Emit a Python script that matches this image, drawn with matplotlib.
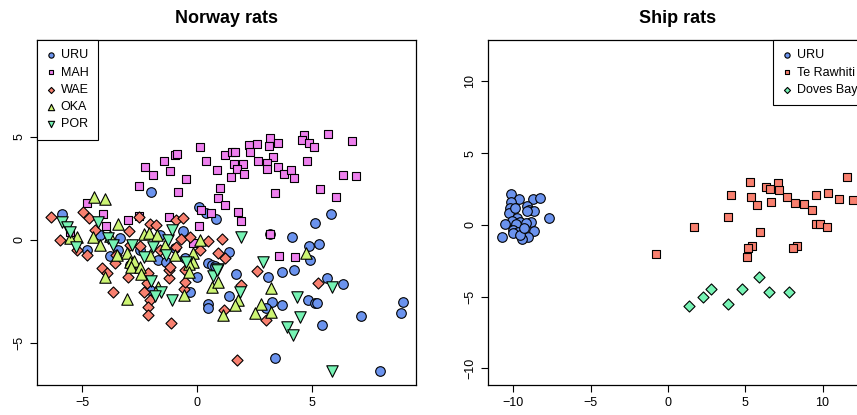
import numpy as np
import matplotlib
matplotlib.use('Agg')
import matplotlib.pyplot as plt

plt.rcParams['font.family'] = ['Liberation Sans', 'DejaVu Sans']

# ---- Norway rats (PC1, PC2 per population) ----
uru_x = [-5.87, -2.0, 0.09, 0.39, 0.83, -0.61, -1.61, -4.78, -3.43, -1.70, -1.35, 0.48, 0.65, 0.78,
         1.39, 1.70, 0.0, -0.30, 1.39, 0.48, 0.48, 3.09, 3.70, 4.22, 4.91, 4.13, 4.87, 5.30, 5.13,
         5.83, 3.17, 5.65, 6.35, 3.26, 3.70, 4.83, 5.13, 5.22, 5.43, 7.13, 8.87, 8.96, 3.39, 7.96,
         3.0, -0.52, -2.48, -2.91, -2.04, -4.22, -3.35, -0.96, -3.78]
uru_y = [1.26, 2.33, 1.60, 1.31, 1.02, 0.44, 0.24, -0.49, -0.49, -0.97, -1.07, -1.12, -1.21, -1.26,
         -0.58, -1.65, -1.80, -2.52, -2.72, -3.11, -3.30, -1.80, -1.55, -1.46, -0.97, 0.15, -0.29,
         -0.19, 0.83, 1.26, 0.29, -1.84, -2.14, -3.01, -3.16, -2.91, -3.06, -3.06, -4.13, -3.69,
         -3.54, -3.01, -5.73, -6.36, -3.30, -0.87, -0.49, -1.21, -2.43, 0.24, 0.10, -0.39, -0.78]

mah_x = [-2.26, -1.91, -2.52, -1.43, -1.17, -0.96, -0.87, 0.13, 0.39, 0.87, 1.22, 1.52, 1.65, 1.61,
         2.0, 1.74, 1.48, 2.04, 1.0, 0.91, 2.26, 2.61, 2.30, 3.17, 3.13, 3.52, 3.30, 2.65, 3.04,
         3.04, 3.52, 3.78, 4.09, 4.22, 3.39, 4.65, 4.57, 4.87, 5.09, 4.78, 5.70, 5.35, 6.04, 6.35,
         6.91, 6.74, -0.48, -0.83, 1.22, 1.78, 1.91, 0.17, 0.61, 0.09, 3.17, -0.17, 3.57, 4.26,
         -4.78, -4.09, -3.0, -2.52, -1.22, -3.96, -5.52]
mah_y = [3.54, 3.16, 2.62, 3.83, 3.35, 4.13, 4.17, 4.51, 3.83, 3.40, 4.13, 4.27, 4.27, 3.69,
         3.69, 3.45, 3.06, 3.20, 2.52, 2.04, 4.61, 4.66, 4.27, 4.95, 4.56, 4.71, 4.03, 3.83, 3.74,
         3.45, 3.54, 3.20, 3.40, 3.01, 2.28, 5.10, 4.85, 4.71, 4.51, 3.83, 5.15, 2.48, 2.09, 3.16,
         3.11, 4.81, 2.96, 2.33, 1.70, 1.36, 0.92, 1.46, 1.31, 0.68, 0.29, -0.15, -0.78, -0.83,
         1.80, 1.26, 0.97, 1.17, 1.12, 0.68, 0.39]

wae_x = [-6.35, -4.96, -4.70, -2.52, -2.04, -1.78, -0.91, -0.61, -2.96, -0.70, -0.91, -4.78, -3.52,
         -4.13, -3.57, -3.91, -3.0, -3.65, -2.13, -2.17, -1.22, -1.22, -2.30, -2.04, -2.13, -2.13,
         -1.13, -0.57, -1.17, -0.30, 0.48, 1.09, 0.91, 1.22, 2.61, 5.26, 1.91, -0.52, -0.52, 1.17,
         3.0, 1.74, -2.48, -5.22, -5.96, -4.43, -2.91, -1.61, 0.13]
wae_y = [1.12, 1.36, 1.07, 1.12, 0.78, 0.73, 0.97, 1.07, 0.44, 0.05, -0.34, -0.73, -0.73,
         -1.36, -1.12, -1.60, -1.80, -2.52, -1.60, -2.09, -1.84, -1.46, -2.52, -2.91, -3.25, -3.64,
         -4.03, -2.38, -1.31, 0.15, -0.05, 0.05, -0.63, -0.87, -1.50, -2.09, -2.18, -1.46, -2.04,
         -3.40, -3.88, -5.83, -0.29, -0.49, 0.0, 0.49, -0.24, -0.49, -0.49]

oka_x = [-4.48, -4.0, -3.43, -5.22, -4.52, -2.30, -2.09, -1.74, -0.17, -3.48, -3.04, -2.91, -0.17,
         -2.74, -2.87, -2.48, -2.43, -4.0, -3.04, -1.70, -0.57, -0.35, -0.35, 0.65, 0.91, 1.78,
         1.65, 1.13, 2.78, 2.52, 3.22, 3.22, 4.74, -5.52, -4.22, -3.78, -1.39, -0.96, -2.04, 0.13]
oka_y = [2.09, 1.99, 0.78, 0.15, 0.15, 0.29, 0.34, 0.24, -0.63, -0.73, -0.63, -1.07, -1.07,
         -1.02, -1.31, -1.31, -1.65, -1.80, -2.86, -2.28, -2.67, -1.17, -1.55, -2.28, -2.04, -2.91,
         -3.16, -3.64, -3.11, -3.54, -2.33, -3.50, -0.63, 0.10, -0.24, 0.19, -0.24, -0.73, -0.73, 0.0]

por_x = [-5.87, -5.65, -5.52, -4.30, -5.26, -3.87, -3.65, -2.83, -2.30, -1.91, -1.26, -1.09, -0.48,
         -1.35, 0.91, -2.0, -1.57, -1.83, -1.09, 1.91, 2.87, 0.70, 0.87, 1.87, 4.35, 4.48, 3.91,
         4.17, 5.87, 5.87]
por_y = [0.87, 0.63, 0.39, 0.87, -0.34, 0.10, -0.24, -0.24, -0.83, -0.34, 0.0, 0.49, -1.07,
         -0.73, -1.41, -1.99, -2.52, -2.72, -2.91, 0.15, -1.07, -1.75, -1.46, -2.52, -2.77, -3.74,
         -4.22, -4.61, -2.28, -6.36]

# ---- Ship rats ----
ship_uru_x = [-10.16, -9.64, -8.74, -8.28, -10.16, -10.23, -9.13, -9.0, -8.67, -9.13, -10.29, -9.77,
              -7.70, -10.10, -9.58, -8.87, -9.19, -10.55, -9.84, -10.03, -9.71, -10.03, -8.67,
              -10.74, -9.06, -9.45, -9.58, -9.32, -9.90]
ship_uru_y = [2.16, 1.81, 1.81, 1.88, 1.60, 1.18, 1.32, 1.05, 0.98, 0.98, 0.84, 0.49, 0.49, 0.28,
              0.21, 0.21, 0.14, 0.07, 0.07, -0.35, -0.49, -0.56, -0.42, -0.84, -0.84, -0.98, -0.70,
              -0.21, 1.18]

tr_x = [-0.78, 1.68, 3.88, 4.08, 5.31, 5.37, 5.76, 6.34, 6.60, 7.12, 7.18, 6.67, 7.70, 8.22, 8.80,
        9.32, 9.58, 10.36, 11.07, 11.97, 11.59, 9.58, 9.84, 10.29, 5.95, 5.44, 5.18, 5.11, 8.35, 8.09]
tr_y = [-2.02, -0.14, 0.56, 2.09, 3.0, 1.95, 1.39, 2.65, 2.51, 2.93, 2.44, 1.60, 1.95, 1.53, 1.46,
        1.05, 2.09, 2.23, 1.81, 1.74, 3.34, 0.07, 0.07, -0.14, -0.49, -1.46, -1.60, -2.23, -1.46, -1.60]

db_x = [1.36, 2.27, 2.78, 3.88, 4.79, 5.89, 6.54, 7.83]
db_y = [-5.64, -5.02, -4.46, -5.51, -4.46, -3.62, -4.67, -4.67]

COL_URU = '#6B93EE'
COL_MAH = '#EE80EE'
COL_WAE = '#F8806F'
COL_OKA = '#CDF574'
COL_POR = '#76F3B4'

fig = plt.figure(figsize=(8.57, 4.15), dpi=100)
ax1 = fig.add_axes([37 / 857, 30 / 415, 379 / 857, 345 / 415])
ax2 = fig.add_axes([488 / 857, 30 / 415, 379 / 857, 345 / 415])

kw = dict(edgecolors='black', linewidths=0.8)
ax1.scatter(uru_x, uru_y, s=48, marker='o', c=COL_URU, label='URU', **kw)
ax1.scatter(mah_x, mah_y, s=35, marker='s', c=COL_MAH, label='MAH', **kw)
ax1.scatter(wae_x, wae_y, s=32, marker='D', c=COL_WAE, label='WAE', **kw)
ax1.scatter(oka_x, oka_y, s=68, marker='^', c=COL_OKA, label='OKA', **kw)
ax1.scatter(por_x, por_y, s=68, marker='v', c=COL_POR, label='POR', **kw)

ax2.scatter(ship_uru_x, ship_uru_y, s=48, marker='o', c=COL_URU, label='URU', **kw)
ax2.scatter(tr_x, tr_y, s=35, marker='s', c=COL_WAE, label='Te Rawhiti', **kw)
ax2.scatter(db_x, db_y, s=32, marker='D', c=COL_POR, label='Doves Bay', **kw)

ax1.set_xlim(-6.96, 9.52)
ax1.set_ylim(-7.04, 9.71)
ax1.set_xticks([-5, 0, 5])
ax1.set_yticks([-5, 0, 5])
ax2.set_xlim(-11.65, 12.88)
ax2.set_ylim(-11.15, 12.89)
ax2.set_xticks([-10, -5, 0, 5, 10])
ax2.set_yticks([-10, -5, 0, 5, 10])

for ax, title in [(ax1, 'Norway rats'), (ax2, 'Ship rats')]:
    ax.set_title(title, fontsize=13, fontweight='bold', pad=12)
    ax.tick_params(direction='out', length=4.8, width=0.8, labelsize=9, pad=3.5)
    for lab in ax.get_yticklabels():
        lab.set_rotation(90)
        lab.set_va('center')
    for sp in ax.spines.values():
        sp.set_linewidth(0.9)

leg_kw = dict(fontsize=9, frameon=True, fancybox=False, edgecolor='black', framealpha=1,
              borderaxespad=0, markerscale=0.55, handlelength=0.7, handletextpad=0.45,
              labelspacing=0.42, borderpad=0.75)
l1 = ax1.legend(loc='upper left', **leg_kw)
l2 = ax2.legend(loc='upper right', **leg_kw)
for l in (l1, l2):
    l.get_frame().set_linewidth(0.8)

fig.savefig('out.png', dpi=100)
